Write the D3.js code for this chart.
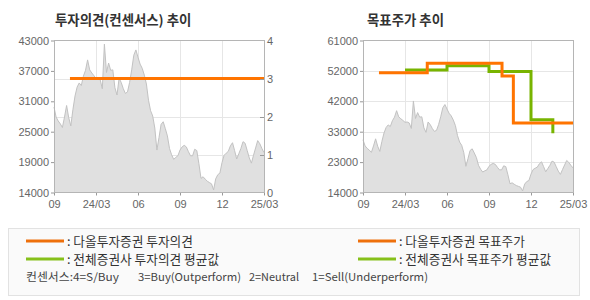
<!DOCTYPE html>
<html><head><meta charset="utf-8">
<script src="https://cdn.jsdelivr.net/npm/d3@7"></script>
<style>
html,body{margin:0;padding:0;background:#fff;}
svg{display:block;}
text{font-family:"Liberation Sans",Arial,sans-serif;}
.kr{font-family:"Noto Sans CJK KR","Noto Sans",sans-serif;}
</style></head><body>
<svg id="c" width="590" height="300"></svg>
<script>
// ---- data ----
const xLabels = ["09","24/03","06","09","12","25/03"];
const xTickIdx = [0,20,40,60,80,100];
const price = [30300,28400,27650,27100,26400,28400,30600,28300,26700,29800,
  32400,34100,34900,34400,36200,37300,39300,37400,36800,36300,
  35700,35800,35500,33800,42300,36900,38700,37300,37400,34000,
  32600,35800,35000,33800,32900,33200,35000,37400,40200,41200,
  39800,38500,37700,36400,34700,31600,29600,28600,26300,22100,
  24500,27000,27500,26200,24800,22400,21200,20330,20700,21000,
  22100,22700,23000,22700,21800,21000,21000,22250,22000,19500,
  16700,17000,16550,16150,15900,15650,14500,16600,17400,17700,
  19700,21100,21500,21850,22900,23500,22000,20400,21400,22400,
  23700,23400,22000,20600,19600,21100,22500,23900,23300,22400,21600];
const leftPriceLabels = ["14000","19000","25000","31000","37000","43000"];
const opinionLabels = ["0","1","2","3","4"];
const rightPriceLabels = ["14000","23000","33000","42000","52000","61000"];
const opinionIdx = [7.6, 100];
const opinionVal = [3, 3];
const targetIdx = [7.6, 30.6, 66.2, 71.6, 100];
const targetVal = [51000, 54000, 50000, 35500, 35500];
const avgIdx = [20, 40, 60, 80, 90.4];
const avgVal = [51900, 53200, 51400, 36500, 32300];
const titles = ["투자의견(컨센서스) 추이", "목표주가 추이"];
const legendLeft = [": 다올투자증권 투자의견", ": 전체증권사 투자의견 평균값"];
const legendRight = [": 다올투자증권 목표주가", ": 전체증권사 목표주가 평균값"];
const consensusParts = ["컨센서스:4=S/Buy", "3=Buy(Outperform)", "2=Neutral", "1=Sell(Underperform)"];

// ---- styles ----
const ORANGE = "#ff7400", GREEN = "#78b400";
const svg = d3.select("#c");
const plotTop = 40.5, plotBottom = 192.5;

function panel(x0, x1, yDomain) {
  const g = svg.append("g");
  const x = d3.scaleLinear().domain([0, price.length - 1]).range([x0, x1]);
  const y = d3.scaleLinear().domain(yDomain).range([plotBottom, plotTop]);
  return {g, x, y};
}

function drawPanel(p, yLabels, yDomain, opts) {
  const {g, x, y} = p;
  const n = yLabels.length - 1;
  const yTicks = d3.range(n + 1).map(i => yDomain[0] + i * (yDomain[1] - yDomain[0]) / n);
  g.append("g").selectAll("line").data(xTickIdx.slice(1, -1)).join("line")
    .attr("x1", d => Math.round(x(d)) + 0.5).attr("x2", d => Math.round(x(d)) + 0.5)
    .attr("y1", plotTop).attr("y2", plotBottom).attr("stroke", "#e6e6e6");
  const gy = opts.gridScale;
  g.append("g").selectAll("line").data(opts.gridVals).join("line")
    .attr("x1", x.range()[0]).attr("x2", x.range()[1])
    .attr("y1", d => Math.round(gy(d)) + 0.5).attr("y2", d => Math.round(gy(d)) + 0.5)
    .attr("stroke", "#e6e6e6");
  const area = d3.area().x((d, i) => x(i)).y0(plotBottom).y1(d => y(d));
  g.append("path").datum(price).attr("d", area).attr("fill", "#e0e0e0");
  const line = d3.line().x((d, i) => x(i)).y(d => y(d));
  g.append("path").datum(price).attr("d", line).attr("fill", "none")
    .attr("stroke", "#c2c2c2").attr("stroke-width", 1);
  const yAxis = d3.axisLeft(y).tickValues(yTicks).tickSize(3).tickPadding(2)
    .tickFormat((d, i) => yLabels[i]);
  const ya = g.append("g").attr("transform", `translate(${x.range()[0]},0)`).call(yAxis);
  ya.select(".domain").remove();
  ya.selectAll("line").attr("stroke", "#999");
  ya.selectAll("text").attr("font-size", 11).attr("fill", "#666")
    .attr("font-family", "'Liberation Sans',Arial,sans-serif");
  const xAxis = d3.axisBottom(x).tickValues(xTickIdx).tickSize(3).tickPadding(5)
    .tickFormat((d, i) => xLabels[i]);
  const xa = g.append("g").attr("transform", `translate(0,${plotBottom})`).call(xAxis);
  xa.select(".domain").remove();
  xa.selectAll("line").attr("stroke", "#999");
  xa.selectAll("text").attr("font-size", 11).attr("fill", "#666")
    .attr("font-family", "'Liberation Sans',Arial,sans-serif");
  return g;
}

function frame(g, x) {
  g.append("rect").attr("x", Math.round(x.range()[0]) + 0.5).attr("y", plotTop)
    .attr("width", Math.round(x.range()[1] - x.range()[0])).attr("height", plotBottom - plotTop)
    .attr("fill", "none").attr("stroke", "#b5b5b5");
}

// ---- left panel ----
const L = panel(54, 264, [14000, 43000]);
const yOp = d3.scaleLinear().domain([0, 4]).range([plotBottom, plotTop]);
drawPanel(L, leftPriceLabels, [14000, 43000], {gridVals: [1, 2, 3], gridScale: yOp});
const opLine = d3.line().x(d => L.x(d[0])).y(d => yOp(d[1])).curve(d3.curveStepAfter);
L.g.append("path").datum(opinionIdx.map((d, i) => [d, opinionVal[i]])).attr("d", opLine)
  .attr("fill", "none").attr("stroke", ORANGE).attr("stroke-width", 3);
frame(L.g, L.x);
const rAxis = d3.axisRight(yOp).tickValues([0, 1, 2, 3, 4]).tickSize(0).tickPadding(3)
  .tickFormat((d, i) => opinionLabels[i]);
const ra = L.g.append("g").attr("transform", `translate(264,0)`).call(rAxis);
ra.select(".domain").remove();
ra.selectAll("text").attr("font-size", 11).attr("fill", "#666")
  .attr("font-family", "'Liberation Sans',Arial,sans-serif");
L.g.append("g").selectAll("line").data([1, 2, 3]).join("line")
  .attr("x1", 260).attr("x2", 264)
  .attr("y1", d => Math.round(yOp(d)) + 0.5).attr("y2", d => Math.round(yOp(d)) + 0.5)
  .attr("stroke", "#999");

// ---- right panel ----
const R = panel(363, 573, [14000, 61000]);
const rTicks = d3.range(6).map(i => 14000 + i * 9400);
drawPanel(R, rightPriceLabels, [14000, 61000], {gridVals: rTicks.slice(1, -1), gridScale: R.y});
const stepLine = d3.line().x(d => R.x(d[0])).y(d => R.y(d[1])).curve(d3.curveStepAfter);
R.g.append("path").datum(avgIdx.map((d, i) => [d, avgVal[i]])).attr("d", stepLine)
  .attr("fill", "none").attr("stroke", GREEN).attr("stroke-width", 3);
R.g.append("path").datum(targetIdx.map((d, i) => [d, targetVal[i]])).attr("d", stepLine)
  .attr("fill", "none").attr("stroke", ORANGE).attr("stroke-width", 3);
frame(R.g, R.x);

// ---- titles ----
svg.append("text").attr("class", "kr").attr("x", 55).attr("y", 25).text(titles[0])
  .attr("font-size", 13.4).attr("font-weight", "bold").attr("fill", "#333");
svg.append("text").attr("class", "kr").attr("x", 367).attr("y", 25).text(titles[1])
  .attr("font-size", 13.4).attr("font-weight", "bold").attr("fill", "#333");

// ---- legend ----
svg.append("rect").attr("x", 8.5).attr("y", 228.5).attr("width", 571).attr("height", 67)
  .attr("fill", "#fafafa").attr("stroke", "#e2e2e2");
const legCols = [{x: 26, texts: legendLeft}, {x: 358, texts: legendRight}];
const legColors = ["#ee700c", "#86c01a"];
const legY = [241, 259];
legCols.forEach(c => {
  c.texts.forEach((t, i) => {
    svg.append("line").attr("x1", c.x).attr("x2", c.x + 38).attr("y1", legY[i]).attr("y2", legY[i])
      .attr("stroke", legColors[i]).attr("stroke-width", 3);
    svg.append("text").attr("class", "kr").attr("x", c.x + 41).attr("y", legY[i] + 4.5)
      .attr("font-size", 12.7).attr("fill", "#333").text(t);
  });
});
const consX = [26, 138, 249, 312];
const consW = [93, 103, 50, 116];
consensusParts.forEach((t, i) => {
  svg.append("text").attr("class", "kr").attr("x", consX[i]).attr("y", 281)
    .attr("font-size", 11).attr("fill", "#444")
    .attr("textLength", consW[i]).attr("lengthAdjust", "spacingAndGlyphs").text(t);
});
</script>
</body></html>
